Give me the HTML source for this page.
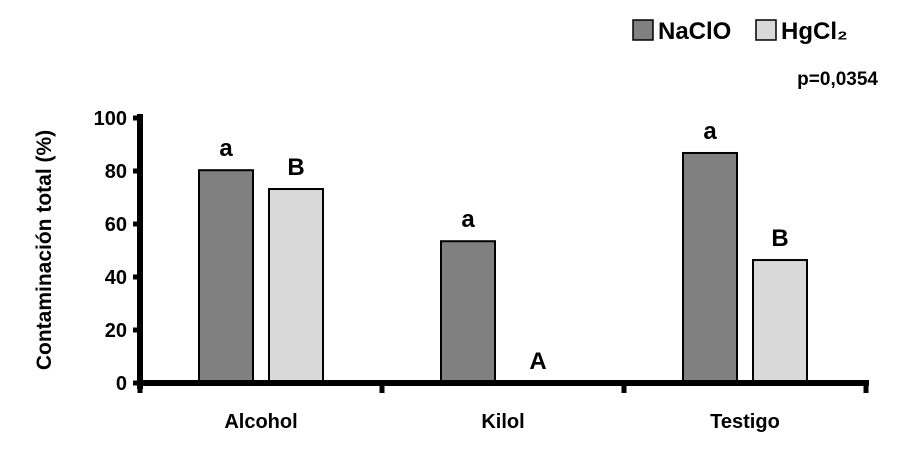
<!DOCTYPE html>
<html><head><meta charset="utf-8"><style>
body{margin:0;background:#fff;}
svg{display:block;font-family:"Liberation Sans",sans-serif;font-weight:bold;}
</style></head><body>
<svg id="chart" width="900" height="451" viewBox="0 0 900 451"></svg>
<script>
const categories=["Alcohol","Kilol","Testigo"];
const naclo=[80.3,53.5,86.8];
const hgcl2=[73.2,0,46.4];
const nacloLetters=["a","a","a"];
const hgcl2Letters=["B","A","B"];
const yTicks=[0,20,40,60,80,100];
const NS="http://www.w3.org/2000/svg";
const svg=document.getElementById("chart");
const x0=140,x1=866,yBase=383,yTop=118;
const y=v=>yBase-(v/100)*(yBase-yTop);
const band=(x1-x0)/categories.length;
const cx=i=>x0+band*(i+0.5);
function mk(tag,attrs,text){const e=document.createElementNS(NS,tag);for(const k in attrs)e.setAttribute(k,attrs[k]);if(text!==undefined)e.textContent=text;svg.appendChild(e);return e;}
const bw=54,gap=16;
categories.forEach((c,i)=>{
  const xa=cx(i)-gap/2-bw, xb=cx(i)+gap/2;
  let r=mk("rect",{x:xa,y:y(naclo[i]),width:bw,height:yBase-y(naclo[i]),fill:"#808080",stroke:"#000","stroke-width":2});
  
  
  if(hgcl2[i]>0){
    let r2=mk("rect",{x:xb,y:y(hgcl2[i]),width:bw,height:yBase-y(hgcl2[i]),fill:"#d9d9d9",stroke:"#000","stroke-width":2});
    
    
  }
  let t=mk("text",{x:xa+bw/2,y:y(naclo[i])-14,"text-anchor":"middle","font-size":24},nacloLetters[i]);
  
  
  let t2=mk("text",{x:xb+bw/2,y:y(hgcl2[i])-14,"text-anchor":"middle","font-size":24},hgcl2Letters[i]);
  
  
  let l=mk("text",{x:cx(i),y:428,"text-anchor":"middle","font-size":20},c);
  
  
});
let ya=mk("line",{x1:x0,y1:yTop-4,x2:x0,y2:yBase+6,stroke:"#000","stroke-width":6});


let xa=mk("line",{x1:x0-3,y1:yBase,x2:x1+3,y2:yBase,stroke:"#000","stroke-width":6});


yTicks.forEach(v=>{
  let tk=mk("line",{x1:x0-7,y1:y(v),x2:x0,y2:y(v),stroke:"#000","stroke-width":5});
  
  
  let tl=mk("text",{x:x0-13,y:y(v)+7,"text-anchor":"end","font-size":20},String(v));
  
  
});
for(let i=0;i<=categories.length;i++){
  let tk=mk("line",{x1:x0+band*i,y1:yBase,x2:x0+band*i,y2:yBase+10,stroke:"#000","stroke-width":5});
  
  
}
let yt=mk("text",{x:0,y:0,"text-anchor":"middle","font-size":21,transform:"translate(51,250) rotate(-90)"},"Contaminación total (%)");


let g1=mk("rect",{x:633,y:20,width:20,height:20,fill:"#808080",stroke:"#000","stroke-width":1.5});


let lt1=mk("text",{x:658,y:39,"font-size":24},"NaClO");


let g2=mk("rect",{x:756,y:20,width:20,height:20,fill:"#d9d9d9",stroke:"#000","stroke-width":1.5});


let lt2=mk("text",{x:781,y:39,"font-size":24},"HgCl₂");


let pv=mk("text",{x:878,y:85,"text-anchor":"end","font-size":19},"p=0,0354");


</script>
</body></html>
